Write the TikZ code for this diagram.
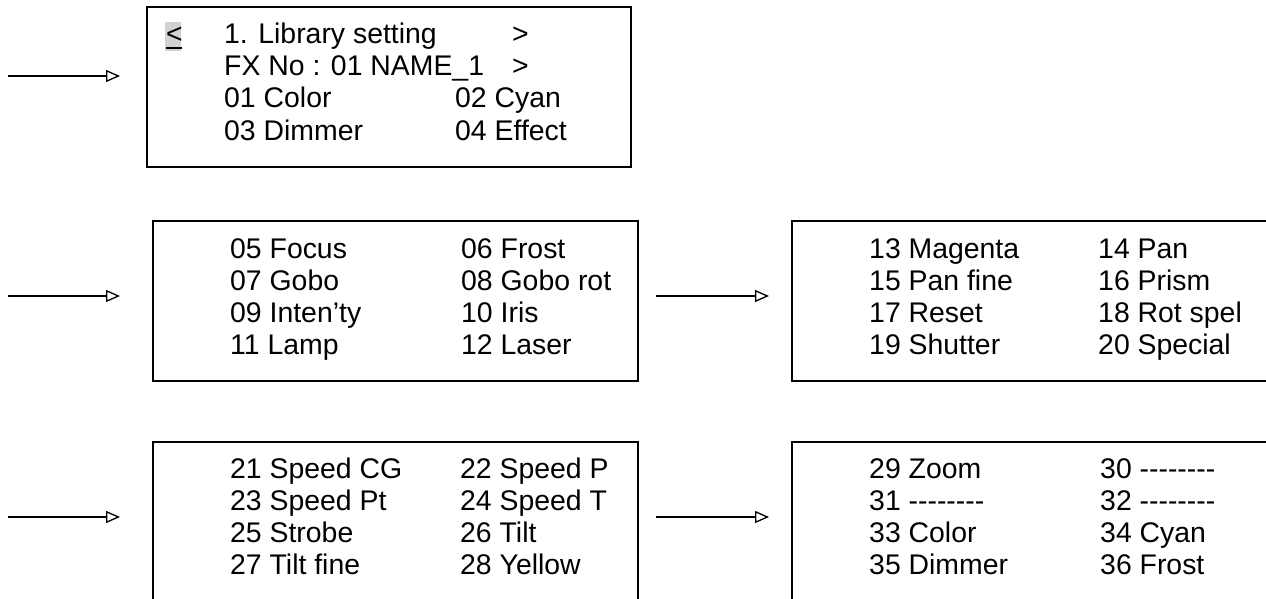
\documentclass[tikz,border=0pt]{standalone}
\usepackage{fontspec}
\setmainfont{Liberation Sans}[Ligatures=TeXOff]
\usetikzlibrary{arrows.meta}
\begin{document}
\begin{tikzpicture}[x=1pt,y=-1pt,
  panel/.style={draw,line width=1.8pt,anchor=north west,inner sep=0pt},
  item/.style={anchor=base west,inner sep=0pt,font=\fontsize{28.4}{33}\selectfont},
  feed/.style={line width=1.4pt,-{Triangle[open,length=14pt,width=12pt,line width=1.3pt]}}]
\useasboundingbox (0,0) rectangle (1266,599);
\clip (0,0) rectangle (1266,599);

% panels
\node[panel,minimum width=484pt,minimum height=160pt] (b1) at (146,6) {};
\node[panel,minimum width=485pt,minimum height=160pt] (b2) at (152,220) {};
\node[panel,minimum width=520pt,minimum height=160pt] (b3) at (791,220) {};
\node[panel,minimum width=485pt,minimum height=220pt] (b4) at (152,441) {};
\node[panel,minimum width=520pt,minimum height=220pt] (b5) at (791,441) {};

% panel 1
\node[fill=gray!35,anchor=north west,inner sep=0pt,minimum width=16pt,minimum height=29pt] (hl) at (165,22) {};
\node[item] (p1k) at (166,44) {\rlap{\rule[-5pt]{16pt}{2.2pt}}<};
\node[item] (p1a) at (224,44) {1. Library setting};
\node[item] (p1b) at (512,44) {>};
\node[item] (p1c) at (224,76) {FX No : 01 NAME\_1};
\node[item] (p1d) at (512,76) {>};
\node[item] (p1e) at (224,108) {01 Color};
\node[item] (p1f) at (455,108) {02 Cyan};
\node[item] (p1g) at (224,140) {03 Dimmer};
\node[item] (p1h) at (455,140) {04 Effect};

% panel 2
\node[item] (p2a) at (230,258) {05 Focus};
\node[item] (p2b) at (461,258) {06 Frost};
\node[item] (p2c) at (230,290) {07 Gobo};
\node[item] (p2d) at (461,290) {08 Gobo rot};
\node[item] (p2e) at (230,322) {09 Inten’ty};
\node[item] (p2f) at (461,322) {10 Iris};
\node[item] (p2g) at (230,354) {11 Lamp};
\node[item] (p2h) at (461,354) {12 Laser};

% panel 3
\node[item] (p3a) at (869,258) {13 Magenta};
\node[item] (p3b) at (1098,258) {14 Pan};
\node[item] (p3c) at (869,290) {15 Pan fine};
\node[item] (p3d) at (1098,290) {16 Prism};
\node[item] (p3e) at (869,322) {17 Reset};
\node[item] (p3f) at (1098,322) {18 Rot spel};
\node[item] (p3g) at (869,354) {19 Shutter};
\node[item] (p3h) at (1098,354) {20 Special};

% panel 4
\node[item] (p4a) at (230,478) {21 Speed CG};
\node[item] (p4b) at (460,478) {22 Speed P};
\node[item] (p4c) at (230,510) {23 Speed Pt};
\node[item] (p4d) at (460,510) {24 Speed T};
\node[item] (p4e) at (230,542) {25 Strobe};
\node[item] (p4f) at (460,542) {26 Tilt};
\node[item] (p4g) at (230,574) {27 Tilt fine};
\node[item] (p4h) at (460,574) {28 Yellow};

% panel 5
\node[item] (p5a) at (869,478) {29 Zoom};
\node[item] (p5b) at (1100,478) {30 --------};
\node[item] (p5c) at (869,510) {31 --------};
\node[item] (p5d) at (1100,510) {32 --------};
\node[item] (p5e) at (869,542) {33 Color};
\node[item] (p5f) at (1100,542) {34 Cyan};
\node[item] (p5g) at (869,574) {35 Dimmer};
\node[item] (p5h) at (1100,574) {36 Frost};

% arrows
\coordinate (a1s) at (8,76);   \coordinate (a1e) at (120,76);
\coordinate (a2s) at (8,296);  \coordinate (a2e) at (120,296);
\coordinate (a3s) at (656,296);\coordinate (a3e) at (769,296);
\coordinate (a4s) at (8,517);  \coordinate (a4e) at (120,517);
\coordinate (a5s) at (656,517);\coordinate (a5e) at (769,517);
\draw[feed] (a1s) -- (a1e);
\draw[feed] (a2s) -- (a2e);
\draw[feed] (a3s) -- (a3e);
\draw[feed] (a4s) -- (a4e);
\draw[feed] (a5s) -- (a5e);
\end{tikzpicture}
\end{document}
